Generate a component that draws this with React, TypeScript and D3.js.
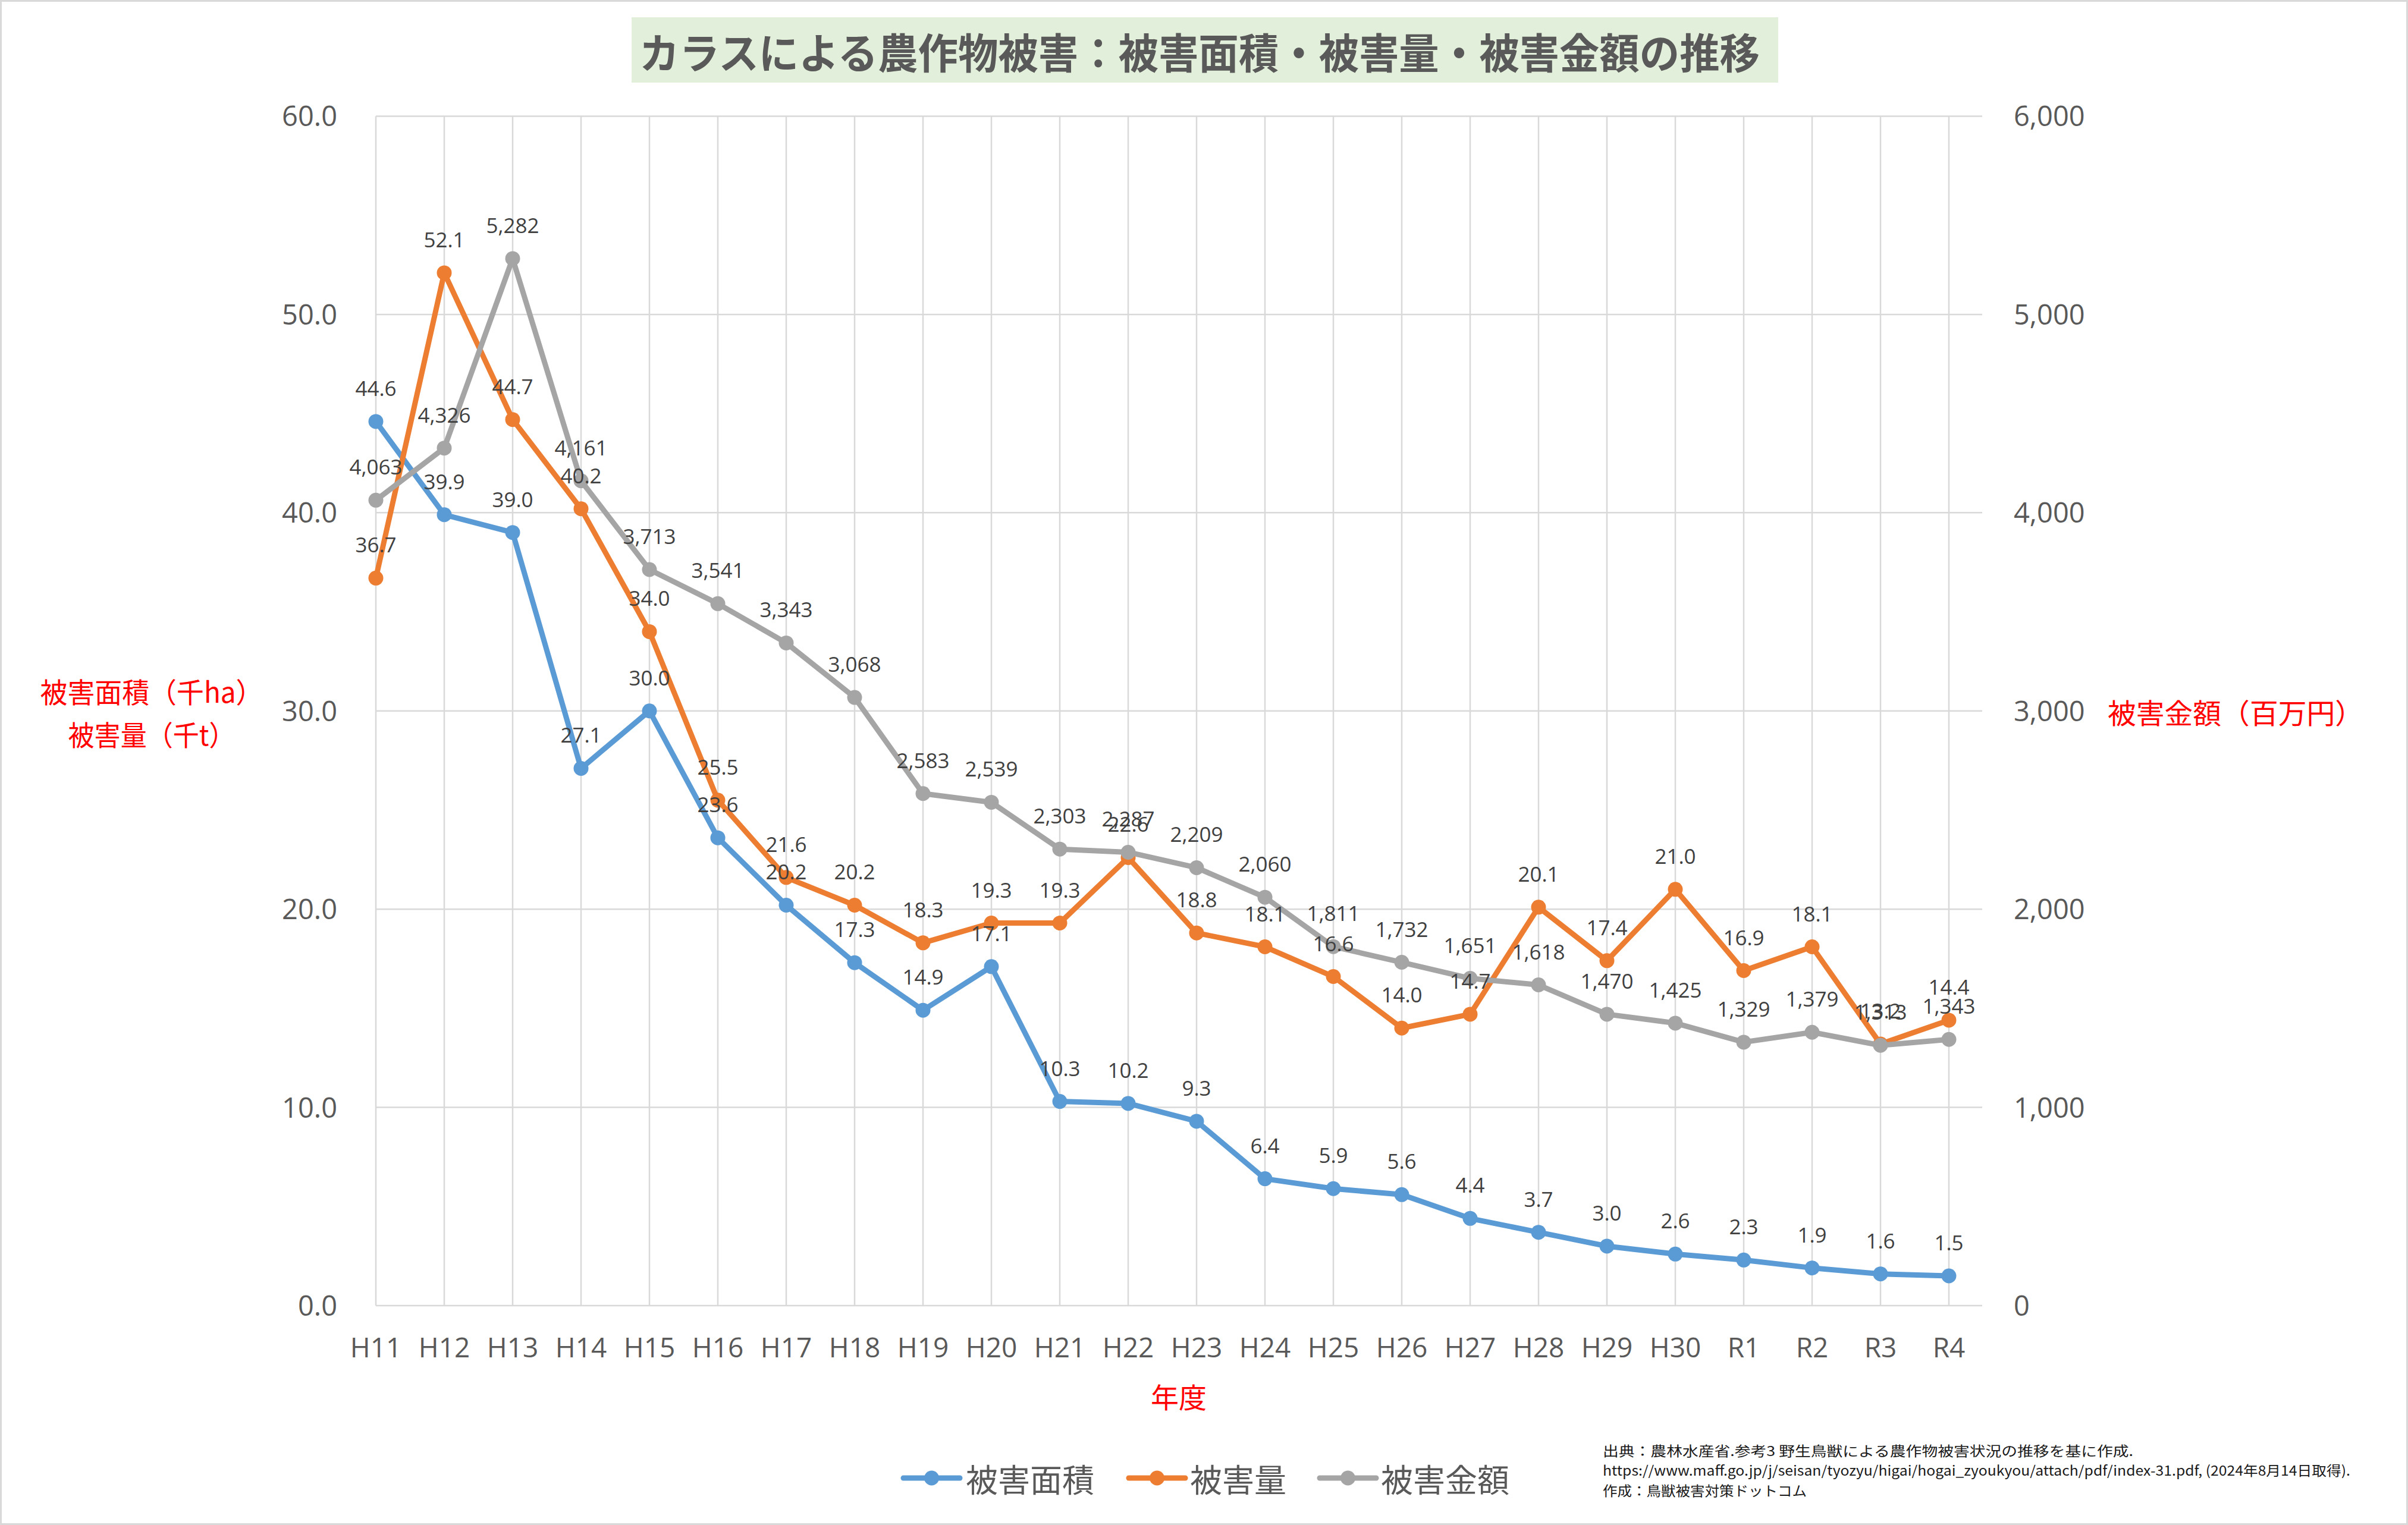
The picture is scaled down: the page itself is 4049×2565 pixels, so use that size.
import React from "react";
import * as d3 from "d3";

const categories = ["H11","H12","H13","H14","H15","H16","H17","H18","H19","H20","H21","H22","H23","H24","H25","H26","H27","H28","H29","H30","R1","R2","R3","R4"];
const damageArea = [44.6,39.9,39.0,27.1,30.0,23.6,20.2,17.3,14.9,17.1,10.3,10.2,9.3,6.4,5.9,5.6,4.4,3.7,3.0,2.6,2.3,1.9,1.6,1.5];
const damageQuantity = [36.7,52.1,44.7,40.2,34.0,25.5,21.6,20.2,18.3,19.3,19.3,22.6,18.8,18.1,16.6,14.0,14.7,20.1,17.4,21.0,16.9,18.1,13.2,14.4];
const damageAmount = [4063,4326,5282,4161,3713,3541,3343,3068,2583,2539,2303,2287,2209,2060,1811,1732,1651,1618,1470,1425,1329,1379,1313,1343];
const leftTicks = [0,10,20,30,40,50,60];
const rightTicks = [0,1000,2000,3000,4000,5000,6000];
const seriesNames = ["被害面積","被害量","被害金額"];
const seriesColors = ["#5b9bd5","#ed7d31","#a5a5a5"];

const W = 4049, H = 2565;
const NUM_FONT = "'Open Sans', 'Noto Sans', sans-serif";
const JP_FONT = "'Noto Sans CJK JP', 'Noto Sans', sans-serif";

export default function App() {
  const x = d3.scalePoint<string>().domain(categories).range([632, 3277]);
  const yL = d3.scaleLinear().domain([0, 60]).range([2196, 195.5]);
  const yR = d3.scaleLinear().domain([0, 6000]).range([2196, 195.5]);
  const gridRight = 3333;
  const gridLeft = 632;

  const f1 = d3.format(".1f");
  const fc = d3.format(",");

  const series = [
    { name: seriesNames[0], color: seriesColors[0], values: damageArea, y: yL, fmt: f1 },
    { name: seriesNames[1], color: seriesColors[1], values: damageQuantity, y: yL, fmt: f1 },
    { name: seriesNames[2], color: seriesColors[2], values: damageAmount, y: yR, fmt: fc },
  ];

  const lineGen = (s: any) =>
    d3.line<number>()
      .x((_, i) => x(categories[i]) as number)
      .y((d) => s.y(d))(s.values) as string;

  const legendItems = [
    { lx: 1519, tx: 1624 },
    { lx: 1898, tx: 2001 },
    { lx: 2219, tx: 2322 },
  ];
  const legendY = 2486;

  return (
    <div style={{ position: "absolute", left: 0, top: 0 }}>
      <svg width={W} height={H} xmlns="http://www.w3.org/2000/svg" style={{ display: "block", background: "#fff" }}>
        <rect x={1.5} y={1.5} width={W - 3} height={H - 3} fill="#fff" stroke="#d9d9d9" strokeWidth={3} />

        {/* Title */}
        <rect x={1062} y={29} width={1928} height={110} fill="#e2efda" />
        <text x={2017} y={85} textAnchor="middle" dominantBaseline="central" fontFamily={JP_FONT} fontWeight={700} fontSize={70} fill="#595959" textLength={1884} lengthAdjust="spacingAndGlyphs">
          カラスによる農作物被害：被害面積・被害量・被害金額の推移
        </text>

        {/* horizontal gridlines */}
        {leftTicks.map((t) => (
          <line key={"h" + t} x1={gridLeft} x2={gridRight} y1={yL(t)} y2={yL(t)} stroke="#d9d9d9" strokeWidth={2.5} />
        ))}
        {/* vertical gridlines */}
        {categories.map((c) => (
          <line key={"v" + c} x1={x(c)} x2={x(c)} y1={yL(60)} y2={yL(0)} stroke="#d9d9d9" strokeWidth={2.5} />
        ))}

        {/* left ticks */}
        {leftTicks.map((t) => (
          <text key={"lt" + t} x={567} y={yL(t)} dy="0.36em" textAnchor="end" fontFamily={NUM_FONT} fontSize={47} fill="#595959">
            {f1(t)}
          </text>
        ))}
        {/* right ticks */}
        {rightTicks.map((t) => (
          <text key={"rt" + t} x={3386} y={yR(t)} dy="0.36em" textAnchor="start" fontFamily={NUM_FONT} fontSize={47} fill="#595959">
            {fc(t)}
          </text>
        ))}
        {/* x labels */}
        {categories.map((c) => (
          <text key={"xl" + c} x={x(c)} y={2283} textAnchor="middle" fontFamily={NUM_FONT} fontSize={46} fill="#595959">
            {c}
          </text>
        ))}

        {/* axis titles */}
        <text x={255} y={1161} textAnchor="middle" dominantBaseline="central" fontFamily={JP_FONT} fontSize={47} fill="#ff0000" textLength={375} lengthAdjust="spacingAndGlyphs">被害面積（千ha）</text>
        <text x={255} y={1233} textAnchor="middle" dominantBaseline="central" fontFamily={JP_FONT} fontSize={47} fill="#ff0000" textLength={281} lengthAdjust="spacingAndGlyphs">被害量（千t）</text>
        <text x={3759} y={1196} textAnchor="middle" dominantBaseline="central" fontFamily={JP_FONT} fontSize={47} fill="#ff0000" textLength={430} lengthAdjust="spacingAndGlyphs">被害金額（百万円）</text>
        <text x={1982} y={2347} textAnchor="middle" dominantBaseline="central" fontFamily={JP_FONT} fontSize={47} fill="#ff0000">年度</text>

        {/* series lines + markers */}
        {series.map((s) => (
          <g key={s.name}>
            <path d={lineGen(s)} fill="none" stroke={s.color} strokeWidth={9} strokeLinejoin="round" strokeLinecap="round" />
            {s.values.map((v, i) => (
              <circle key={i} cx={x(categories[i])} cy={s.y(v)} r={12.5} fill={s.color} />
            ))}
          </g>
        ))}

        {/* data labels */}
        {series.map((s) => (
          <g key={"lab" + s.name}>
            {s.values.map((v, i) => (
              <text key={i} x={x(categories[i])} y={s.y(v) - 43} textAnchor="middle" fontFamily={NUM_FONT} fontSize={35} fill="#404040">
                {s.fmt(v)}
              </text>
            ))}
          </g>
        ))}

        {/* legend */}
        {series.map((s, i) => (
          <g key={"lg" + s.name}>
            <line x1={legendItems[i].lx} x2={legendItems[i].lx + 95} y1={legendY} y2={legendY} stroke={s.color} strokeWidth={9} strokeLinecap="round" />
            <circle cx={legendItems[i].lx + 47.5} cy={legendY} r={12.5} fill={s.color} />
            <text x={legendItems[i].tx} y={legendY} dominantBaseline="central" fontFamily={JP_FONT} fontSize={54} fill="#595959">
              {s.name}
            </text>
          </g>
        ))}

        {/* source */}
        <text x={2695} y={2449} fontFamily={JP_FONT} fontSize={23} fill="#1a1a1a" textLength={892} lengthAdjust="spacingAndGlyphs">
          出典：農林水産省.参考3 野生鳥獣による農作物被害状況の推移を基に作成.
        </text>
        <text x={2695} y={2482} fontFamily={JP_FONT} fontSize={23} fill="#1a1a1a" textLength={1257} lengthAdjust="spacingAndGlyphs">
          https://www.maff.go.jp/j/seisan/tyozyu/higai/hogai_zyoukyou/attach/pdf/index-31.pdf, (2024年8月14日取得).
        </text>
        <text x={2695} y={2516} fontFamily={JP_FONT} fontSize={23} fill="#1a1a1a" textLength={343} lengthAdjust="spacingAndGlyphs">
          作成：鳥獣被害対策ドットコム
        </text>
      </svg>
    </div>
  );
}
